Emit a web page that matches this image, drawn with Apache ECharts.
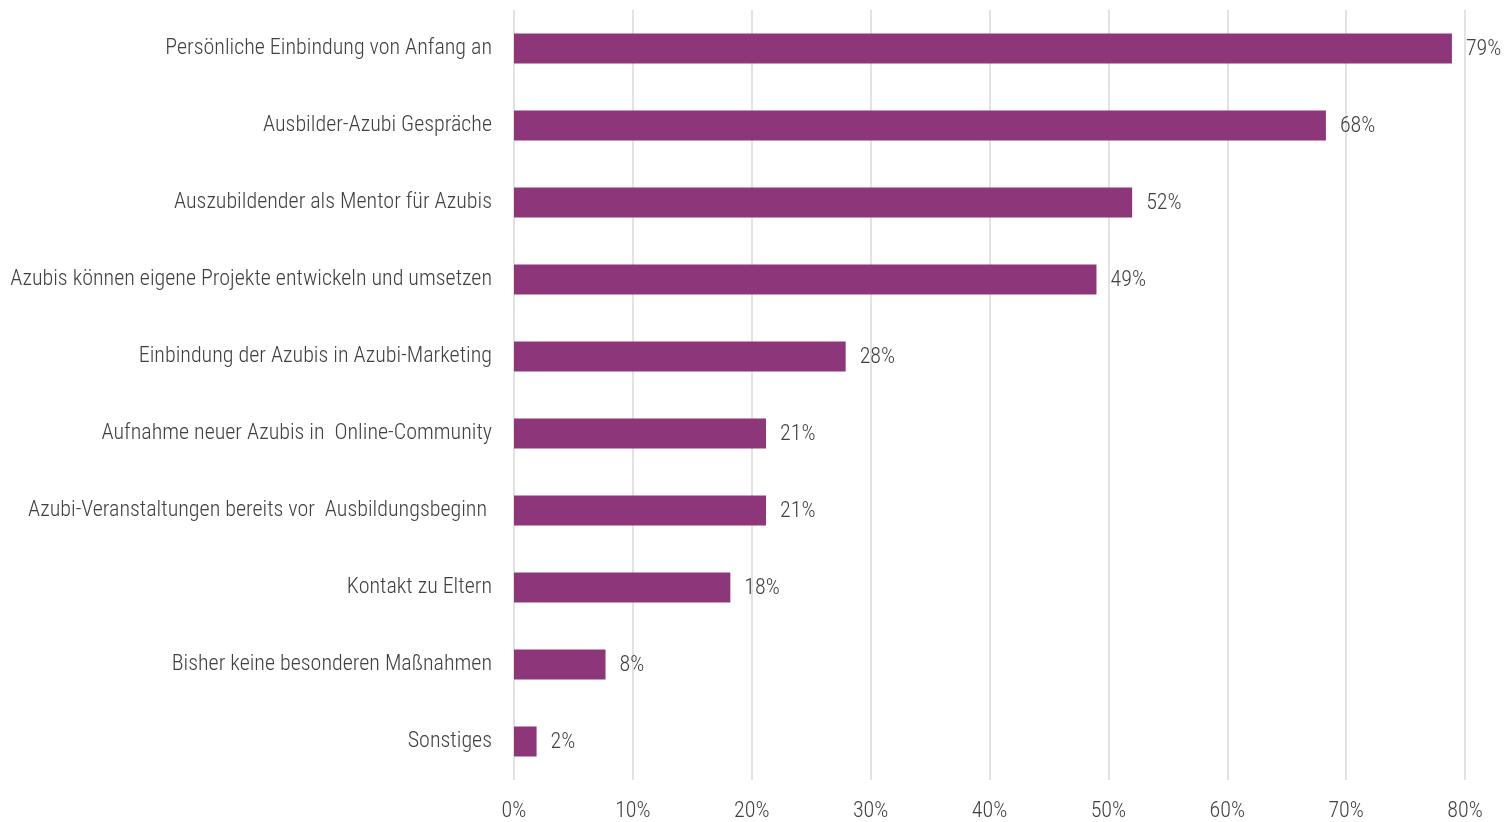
<!DOCTYPE html>
<html>
<head>
<meta charset="utf-8">
<script src="https://cdn.jsdelivr.net/npm/echarts@6/dist/echarts.min.js"></script>
<style>
  html, body { margin: 0; padding: 0; background: #fff; }
  #chart { width: 1506px; height: 822px; }
</style>
</head>
<body>
<div id="chart"></div>
<script>
// Kategorien von oben nach unten
var categories = [
  'Persönliche Einbindung von Anfang an',
  'Ausbilder-Azubi Gespräche',
  'Auszubildender als Mentor für Azubis',
  'Azubis können eigene Projekte entwickeln und umsetzen',
  'Einbindung der Azubis in Azubi-Marketing',
  'Aufnahme neuer Azubis in  Online-Community',
  'Azubi-Veranstaltungen bereits vor  Ausbildungsbeginn ',
  'Kontakt zu Eltern',
  'Bisher keine besonderen Maßnahmen',
  'Sonstiges'
];
var values = [78.9, 68.3, 52.0, 49.0, 27.9, 21.2, 21.2, 18.2, 7.7, 1.9];
var axisTicks = [0, 10, 20, 30, 40, 50, 60, 70, 80];

var fontFam = '"Liberation Sans Narrow", "Roboto Condensed", Roboto, sans-serif';
var textColor = '#404040';

var chart = echarts.init(document.getElementById('chart'));
var option = {
  animation: false,
  textStyle: { fontFamily: fontFam },
  grid: { left: 514, right: 41, top: 10, bottom: 41 },
  xAxis: {
    type: 'value',
    min: axisTicks[0],
    max: axisTicks[axisTicks.length - 1],
    interval: 10,
    axisLine: { show: false },
    axisTick: { show: false },
    splitLine: { show: true, lineStyle: { color: '#d9d9d9', width: 1.5 } },
    axisLabel: {
      margin: 20,
      fontSize: 22,
      fontWeight: 300,
      color: textColor,
      fontFamily: fontFam,
      formatter: function (v) { return v + '%'; }
    }
  },
  yAxis: {
    type: 'category',
    inverse: true,
    data: categories,
    axisLine: { show: false },
    axisTick: { show: false },
    axisLabel: {
      margin: 22,
      fontSize: 22,
      fontWeight: 300,
      padding: [4, 0, 0, 0],
      color: textColor,
      fontFamily: fontFam
    }
  },
  series: [{
    type: 'bar',
    data: values,
    barWidth: 30,
    itemStyle: { color: '#8e367a' },
    label: {
      show: true,
      position: 'right',
      distance: 14,
      offset: [0, 1],
      fontSize: 22,
      fontWeight: 300,
      color: textColor,
      fontFamily: fontFam,
      formatter: function (p) { return Math.round(p.value) + '%'; }
    }
  }]
};
chart.setOption(option);
</script>
</body>
</html>
